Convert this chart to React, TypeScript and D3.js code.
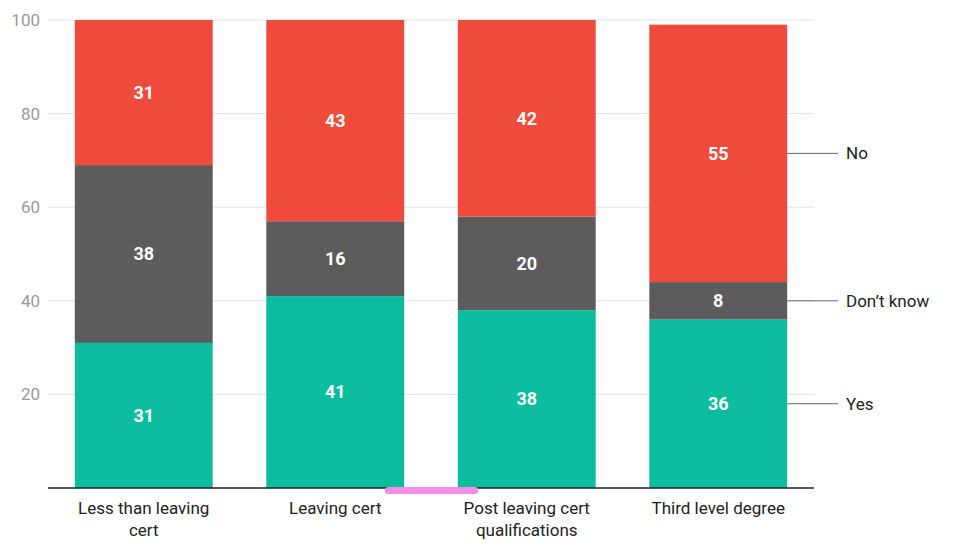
import * as React from "react";
import * as d3 from "d3";

const categories = [["Less than leaving", "cert"], ["Leaving cert"], ["Post leaving cert", "qualifications"], ["Third level degree"]];
const yes = [31, 41, 38, 36];
const dontKnow = [38, 16, 20, 8];
const no = [31, 43, 42, 55];
const seriesNames = ["Yes", "Don’t know", "No"];
const colors = ["#0bbc9f", "#5c5c5c", "#ef4a3c"];
const yTicks = [20, 40, 60, 80, 100];

const W = 954, H = 549;

export default function App() {
  const x = d3.scaleBand<number>().domain([0, 1, 2, 3]).range([48, 814]).paddingInner(0.28).paddingOuter(0.14);
  const y = d3.scaleLinear().domain([0, 100]).range([488, 20]);
  const data = categories.map((_, i) => ({ i, yes: yes[i], dk: dontKnow[i], no: no[i] }));
  const stack = d3.stack<any>().keys(["yes", "dk", "no"])(data);
  const font = "Roboto, sans-serif";
  const last = 3;
  return (
    <svg width={W} height={H} style={{ position: "absolute", left: 0, top: 0 }} fontFamily={font}>
      {yTicks.map((t) => (
        <g key={t}>
          <line x1={48} x2={814} y1={y(t)} y2={y(t)} stroke="#e3e3e3" />
          <text x={40} y={y(t)} dy="0.35em" textAnchor="end" fontSize={17} fill="#9a9a9a">{t}</text>
        </g>
      ))}
      {stack.map((s, si) => (
        <g key={si}>
          {s.map((d, i) => (
            <g key={i}>
              <rect x={x(i)} width={x.bandwidth()} y={y(d[1])} height={y(d[0]) - y(d[1])} fill={colors[si]} />
              <text x={x(i)! + x.bandwidth() / 2} y={(y(d[0]) + y(d[1])) / 2} dy="0.35em" textAnchor="middle"
                fontSize={18} fontWeight="bold" fill="#fff">{d[1] - d[0]}</text>
            </g>
          ))}
        </g>
      ))}
      <line x1={48} x2={814} y1={488} y2={488} stroke="#222" strokeWidth={1.5} />
      <rect x={385} y={487} width={93} height={7} rx={3} fill="#f28de8" />
      {categories.map((c, i) => (
        <text key={i} x={x(i)! + x.bandwidth() / 2} y={514} textAnchor="middle" fontSize={17} fill="#222">
          {c.map((l, k) => <tspan key={k} x={x(i)! + x.bandwidth() / 2} dy={k === 0 ? 0 : 22}>{l}</tspan>)}
        </text>
      ))}
      {stack.map((s, si) => {
        const d = s[last];
        const yy = (y(d[0]) + y(d[1])) / 2;
        return (
          <g key={si}>
            <line x1={x(last)! + x.bandwidth()} x2={838} y1={yy} y2={yy} stroke="#666" />
            <text x={846} y={yy} dy="0.35em" fontSize={17} fill="#222">{seriesNames[si]}</text>
          </g>
        );
      })}
    </svg>
  );
}
